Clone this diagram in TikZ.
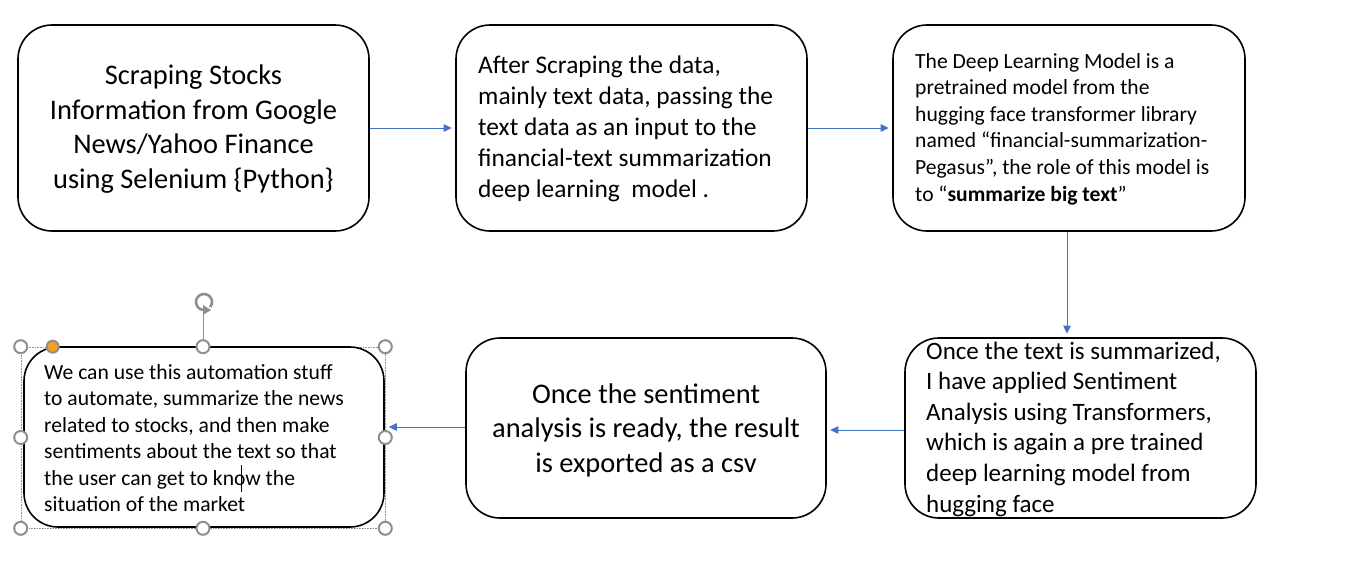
\documentclass[tikz,border=0pt]{standalone}
\usepackage{fontspec}
\setmainfont{Carlito}
\usetikzlibrary{arrows.meta}
\definecolor{arrowblue}{HTML}{4472C4}
\definecolor{handlegray}{HTML}{8F8F8F}
\definecolor{handleorange}{HTML}{F0A024}
\begin{document}
\begin{tikzpicture}[x=1pt,y=-1pt,
  stepbox/.style={draw=black, line width=1.6pt, rounded corners=34pt, inner sep=0pt},
  txt/.style={inner sep=0pt, align=left},
  ctxt/.style={inner sep=0pt, align=center},
  conn/.style={draw=arrowblue, line width=0.9pt, -{Triangle[length=8pt,width=7.5pt]}, shorten >=3.5pt},
  handle/.style={circle, draw=handlegray, line width=2pt, fill=white, minimum size=13pt, inner sep=0pt},
  selbox/.style={draw=handlegray, line width=0.6pt, densely dotted, inner sep=0pt}]
\useasboundingbox (0,0) rectangle (1354,579);
\fill[white] (0,0) rectangle (1354,579);

% boxes
\node[stepbox, minimum width=351pt, minimum height=206pt] (b1) at (193.5,128) {};
\node[stepbox, minimum width=351pt, minimum height=206pt] (b2) at (631.5,128) {};
\node[stepbox, minimum width=352pt, minimum height=206pt] (b3) at (1069,128) {};
\node[stepbox, minimum width=351pt, minimum height=180pt] (b4) at (1080.5,428) {};
\node[stepbox, minimum width=360pt, minimum height=180pt] (b5) at (646,428) {};
\node[selbox, minimum width=364pt, minimum height=181pt] (sel) at (203,437.5) {};
\node[stepbox, minimum width=360pt, minimum height=180pt] (b6) at (204,437) {};

% texts
\node[ctxt, font=\fontsize{28.4}{34.5}\selectfont] (t1) at (193.5,129)
  {Scraping Stocks\\Information from Google\\News/Yahoo Finance\\using Selenium \{Python\}};
\node[txt, font=\fontsize{25.4}{31}\selectfont, anchor=west] (t2) at (478,129)
  {After Scraping the data,\\mainly text data, passing the\\text data as an input to the\\financial-text summarization\\deep learning\ \ model .};
\node[txt, font=\fontsize{21.6}{26.6}\selectfont, anchor=west] (t3) at (915,129)
  {The Deep Learning Model is a\\pretrained model from the\\hugging face transformer library\\named “financial-summarization-\\Pegasus”, the role of this model is\\to “\textbf{summarize big text}”};
\node[txt, font=\fontsize{25}{30.6}\selectfont, anchor=west] (t4) at (926,429)
  {Once the text is summarized,\\I have applied Sentiment\\Analysis using Transformers,\\which is again a pre trained\\deep learning model from\\hugging face};
\node[ctxt, font=\fontsize{28.4}{34.5}\selectfont] (t5) at (646,430)
  {Once the sentiment\\analysis is ready, the result\\is exported as a csv};
\node[txt, font=\fontsize{21.6}{26.4}\selectfont, anchor=west] (t6) at (44,438)
  {We can use this automation stuff\\to automate, summarize the news\\related to stocks, and then make\\sentiments about the text so that\\the user can get to know the\\situation of the market};

% connectors
\draw[conn] (b1.east) -- (b2.west);
\draw[conn] (b2.east) -- (b3.west);
\draw[conn] ([xshift=-2pt]b3.south) -- ([xshift=-2pt]b3.south |- b4.north);
\draw[conn] ([yshift=-2pt]b4.west) -- ([yshift=-2pt]b4.west -| b5.east);
\draw[conn] ([yshift=1pt]b5.west) -- ([yshift=1pt]b5.west -| sel.east);

% selection handles
\coordinate (rot) at (204,302);
\draw[handlegray, line width=1pt] (sel.north) -- ([yshift=35pt]sel.north);
\draw[handlegray, line width=2.6pt] ([shift={(-40:8pt)}]rot) arc[start angle=-40, end angle=270, radius=8pt];
\fill[handlegray] ([shift={(-1pt,-3pt)}]rot) -- ([shift={(7pt,-8pt)}]rot) -- ([shift={(-1pt,-13pt)}]rot) -- cycle;
\node[handle] (h1) at (sel.north west) {};
\node[handle] (h2) at (sel.north) {};
\node[handle] (h3) at (sel.north east) {};
\node[handle] (h4) at (sel.west) {};
\node[handle] (h5) at (sel.east) {};
\node[handle] (h6) at (sel.south west) {};
\node[handle] (h7) at (sel.south) {};
\node[handle] (h8) at (sel.south east) {};
\node[handle, fill=handleorange, minimum size=12pt] (h9) at ([xshift=32pt]sel.north west) {};

% text cursor
\draw[black, line width=1pt] (241,465) -- (241,492);
\end{tikzpicture}
\end{document}
